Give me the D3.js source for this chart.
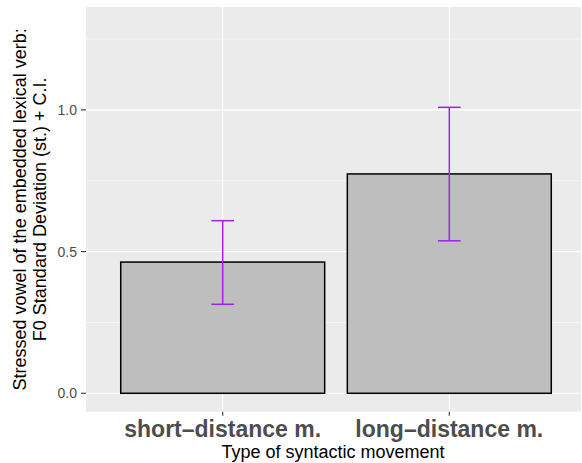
<!DOCTYPE html>
<html>
<head>
<meta charset="utf-8">
<script src="https://cdn.jsdelivr.net/npm/d3@7"></script>
<style>
  body { margin: 0; background: white; }
  text { font-family: "Liberation Sans", Arial, sans-serif; }
</style>
</head>
<body>
<script>
// data
var categories = ["short\u2013distance m.", "long\u2013distance m."];
var means = [0.463, 0.774];
var ciLow = [0.314, 0.538];
var ciHigh = [0.609, 1.009];
var yTicks = [0.0, 0.5, 1.0];
var yMinor = [0.25, 0.75, 1.25];

var width = 582, height = 463;
var pLeft = 86, pRight = 581, pTop = 7, pBottom = 411.7;

var svg = d3.select("body").append("svg").attr("width", width).attr("height", height);

// discrete positions 1 and 2, mapped like ggplot's expanded discrete scale
var x = d3.scaleLinear().domain([1, 2]).range([222.7, 449.3]);
var y = d3.scaleLinear().domain([-0.065, 1.363]).range([pBottom, pTop]);

svg.append("rect").attr("x", pLeft).attr("y", pTop).attr("width", pRight - pLeft).attr("height", pBottom - pTop).attr("fill", "#EBEBEB");

svg.selectAll(".minor").data(yMinor).enter().append("line")
   .attr("x1", pLeft).attr("x2", pRight)
   .attr("y1", d => y(d)).attr("y2", d => y(d))
   .attr("stroke", "white").attr("stroke-width", 0.55);

svg.selectAll(".major").data(yTicks).enter().append("line")
   .attr("x1", pLeft).attr("x2", pRight)
   .attr("y1", d => y(d)).attr("y2", d => y(d))
   .attr("stroke", "white").attr("stroke-width", 1.1);

svg.selectAll(".vmajor").data(categories).enter().append("line")
   .attr("x1", (d, i) => x(i + 1)).attr("x2", (d, i) => x(i + 1))
   .attr("y1", pTop).attr("y2", pBottom)
   .attr("stroke", "white").attr("stroke-width", 1.1);

// bars
svg.selectAll(".bar").data(means).enter().append("rect")
   .attr("x", (d, i) => x(i + 1 - 0.45))
   .attr("width", x(1.45) - x(0.55))
   .attr("y", d => y(d))
   .attr("height", d => y(0) - y(d))
   .attr("fill", "#BEBEBE").attr("stroke", "black").attr("stroke-width", 1.5);

// error bars
var cap = 0.05;
var eb = svg.selectAll(".eb").data(means).enter().append("g")
   .attr("stroke", "#A020F0").attr("stroke-width", 1.5);
eb.append("line").attr("x1", (d, i) => x(i + 1)).attr("x2", (d, i) => x(i + 1))
   .attr("y1", (d, i) => y(ciLow[i])).attr("y2", (d, i) => y(ciHigh[i]));
eb.append("line").attr("x1", (d, i) => x(i + 1 - cap)).attr("x2", (d, i) => x(i + 1 + cap))
   .attr("y1", (d, i) => y(ciLow[i])).attr("y2", (d, i) => y(ciLow[i]));
eb.append("line").attr("x1", (d, i) => x(i + 1 - cap)).attr("x2", (d, i) => x(i + 1 + cap))
   .attr("y1", (d, i) => y(ciHigh[i])).attr("y2", (d, i) => y(ciHigh[i]));

// y axis
svg.selectAll(".ytick").data(yTicks).enter().append("line")
   .attr("x1", pLeft - 5).attr("x2", pLeft)
   .attr("y1", d => y(d)).attr("y2", d => y(d))
   .attr("stroke", "#333333").attr("stroke-width", 1.1);
svg.selectAll(".ylab").data(yTicks).enter().append("text")
   .attr("x", 77).attr("y", d => y(d) + 5)
   .attr("text-anchor", "end").attr("fill", "#4D4D4D").style("font-size", "14px")
   .text(d => d3.format(".1f")(d));

// x axis
svg.selectAll(".xtick").data(categories).enter().append("line")
   .attr("x1", (d, i) => x(i + 1)).attr("x2", (d, i) => x(i + 1))
   .attr("y1", pBottom).attr("y2", pBottom + 4)
   .attr("stroke", "#333333").attr("stroke-width", 1.1);
svg.selectAll(".xlab").data(categories).enter().append("text")
   .attr("x", (d, i) => x(i + 1)).attr("y", 437)
   .attr("text-anchor", "middle").attr("fill", "#4D4D4D")
   .style("font-size", "23px").style("font-weight", "bold")
   .text(d => d);

svg.append("text").attr("x", 333).attr("y", 458)
   .attr("text-anchor", "middle").style("font-size", "18px").text("Type of syntactic movement");

var yt = svg.append("text")
   .attr("transform", "translate(26," + ((pTop + pBottom) / 2) + ") rotate(-90)")
   .attr("text-anchor", "middle").style("font-size", "18px");
yt.append("tspan").attr("x", 0).attr("dy", 0).text("Stressed vowel of the embedded lexical verb:");
yt.append("tspan").attr("x", 0).attr("dy", 20).text("F0 Standard Deviation (st.) + C.I.");
</script>
</body>
</html>
